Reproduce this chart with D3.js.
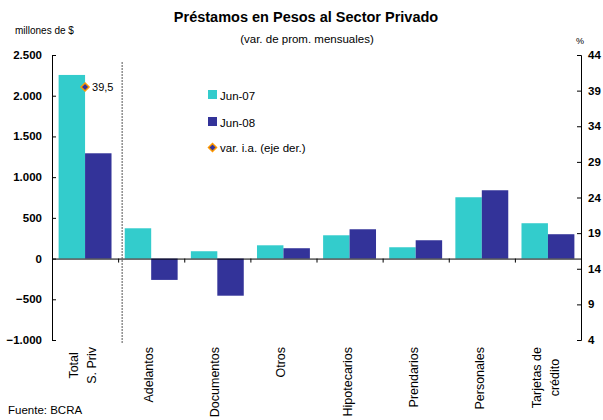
<!DOCTYPE html>
<html>
<head>
    <meta charset="utf-8">
    <title>Préstamos en Pesos al Sector Privado</title>
    <script src="https://d3js.org/d3.v7.min.js"></script>
    <style>
        body { margin: 0; background: #fff; }
        text { font-family: "Liberation Sans", Arial, sans-serif; fill: #000; }
    </style>
</head>
<body>
    <svg width="603" height="420"></svg>
    <script>
        // Data
        const categories = [["Total", "S. Priv"], ["Adelantos"], ["Documentos"], ["Otros"],
                            ["Hipotecarios"], ["Prendarios"], ["Personales"], ["Tarjetas de", "crédito"]];
        const jun07 = [2255, 372, 90, 163, 286, 139, 753, 434];
        const jun08 = [1293, -262, -456, 127, 360, 225, 839, 299];
        const varIA = 39.5;               // right axis, only for Total
        const leftTicks = [2500, 2000, 1500, 1000, 500, 0, -500, -1000];
        const rightTicks = [44, 39, 34, 29, 24, 19, 14, 9, 4];
        const seriesNames = ["Jun-07", "Jun-08"];
        const colors = ["#33CCCC", "#333399"];

        const svg = d3.select("svg");
        const plotL = 52, plotR = 581, plotT = 55, plotB = 340;

        const x0 = d3.scaleBand()
            .domain(d3.range(categories.length))
            .range([plotL, plotR])
            .paddingInner(0.2)
            .paddingOuter(0.1);
        const x1 = d3.scaleBand()
            .domain([0, 1])
            .range([0, x0.bandwidth()]);
        const y = d3.scaleLinear().domain([-1000, 2500]).range([plotB, plotT]);
        const y2 = d3.scaleLinear().domain([4, 44]).range([plotB, plotT]);

        const fmt = v => d3.format(",")(v).replace(/,/g, ".");

        // Bars
        const groups = svg.append("g").selectAll("g")
            .data(categories.map((c, i) => [jun07[i], jun08[i]]))
            .join("g")
            .attr("transform", (d, i) => `translate(${x0(i)},0)`);
        groups.selectAll("rect")
            .data(d => d)
            .join("rect")
            .attr("x", (d, j) => x1(j))
            .attr("width", x1.bandwidth())
            .attr("y", d => y(Math.max(0, d)))
            .attr("height", d => Math.abs(y(d) - y(0)))
            .attr("fill", (d, j) => colors[j]);

        // Left axis
        svg.append("g")
            .attr("transform", `translate(${plotL},0)`)
            .call(d3.axisRight(y).tickValues(leftTicks).tickSize(4).tickFormat(""));
        svg.append("g").selectAll("text")
            .data(leftTicks).join("text")
            .attr("x", 42).attr("y", d => y(d) + 4)
            .attr("text-anchor", "end")
            .attr("font-size", 11.5).attr("font-weight", "bold")
            .text(fmt);

        // Right axis
        svg.append("g")
            .attr("transform", `translate(${plotR},0)`)
            .call(d3.axisLeft(y2).tickValues(rightTicks).tickSize(4).tickFormat(""));
        svg.append("g").selectAll("text")
            .data(rightTicks).join("text")
            .attr("x", 588).attr("y", d => y2(d) + 4)
            .attr("font-size", 11.5).attr("font-weight", "bold")
            .text(d => d);

        // Zero line with ticks pointing down
        svg.append("g")
            .attr("transform", `translate(0,${y(0)})`)
            .call(d3.axisBottom(d3.scaleLinear().domain([plotL, plotR]).range([plotL, plotR]))
                .tickValues(d3.range(1, categories.length).map(i => x0(i) - x0.step() * x0.paddingInner() / 2))
                .tickSize(4).tickFormat("").tickSizeOuter(0));

        // Separator after total
        const sepX = x0(1) - x0.step() * 0.1 + 4;
        svg.append("line")
            .attr("x1", sepX).attr("x2", sepX)
            .attr("y1", 62).attr("y2", 343)
            .attr("stroke", "#555").attr("stroke-dasharray", "2,1");

        // Category labels (rotated, two-line labels centred on each other)
        const labelTop = 347;
        categories.forEach((lines, i) => {
            const cx = x0(i) + x0.bandwidth() / 2;
            const texts = lines.map((t, k) => {
                const off = lines.length === 1 ? 2 : (k === 0 ? -7 : 11);
                return svg.append("text")
                    .attr("font-size", 12.5)
                    .attr("text-anchor", "middle")
                    .attr("data-x", cx + off)
                    .text(t);
            });
            const maxLen = d3.max(texts, t => t.node().getComputedTextLength());
            texts.forEach(t => t.attr("transform",
                `translate(${t.attr("data-x")},${labelTop + maxLen / 2}) rotate(-90)`));
        });

        // Diamond marker
        const diamond = "M0,-4L4,0L0,4L-4,0Z";
        const mx = x0(0) + x0.bandwidth() / 2, my = y2(varIA);
        svg.append("path")
            .attr("d", diamond)
            .attr("transform", `translate(${mx},${my})`)
            .attr("fill", "#333399").attr("stroke", "#FF9900").attr("stroke-width", 1.5);
        svg.append("text")
            .attr("x", mx + 7).attr("y", my + 4)
            .attr("font-size", 11)
            .text(String(varIA).replace(".", ","));

        // Legend
        const leg = svg.append("g").attr("transform", "translate(208,90)");
        seriesNames.forEach((n, i) => {
            leg.append("rect").attr("x", 0).attr("y", i * 27).attr("width", 9).attr("height", 9).attr("fill", colors[i]);
            leg.append("text").attr("x", 12).attr("y", i * 27 + 9.5).attr("font-size", 11.5).text(n);
        });
        leg.append("path").attr("d", diamond)
            .attr("transform", "translate(4.5,57.5)")
            .attr("fill", "#333399").attr("stroke", "#FF9900").attr("stroke-width", 1.5);
        leg.append("text").attr("x", 12).attr("y", 62).attr("font-size", 11.5).text("var. i.a. (eje der.)");

        // Titles
        svg.append("text").attr("x", 306).attr("y", 22).attr("text-anchor", "middle")
            .attr("font-size", 14.5).attr("font-weight", "bold").text("Préstamos en Pesos al Sector Privado");
        svg.append("text").attr("x", 307).attr("y", 43).attr("text-anchor", "middle")
            .attr("font-size", 11.5).text("(var. de prom. mensuales)");
        svg.append("text").attr("x", 15).attr("y", 34).attr("font-size", 10).text("millones de $");
        svg.append("text").attr("x", 576).attr("y", 44).attr("font-size", 9).text("%");
        svg.append("text").attr("x", 8).attr("y", 414).attr("font-size", 11.5).text("Fuente: BCRA");
    </script>
</body>
</html>
